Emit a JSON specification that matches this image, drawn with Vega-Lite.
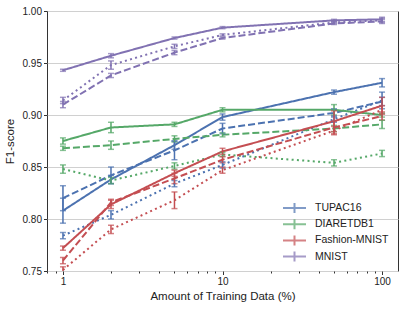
{
  "$schema": "https://vega.github.io/schema/vega-lite/v6.json",
  "width": 351,
  "height": 260,
  "autosize": {"type": "none"},
  "padding": {"left": 47, "top": 11, "right": 11, "bottom": 39},
  "config": {
    "font": "Liberation Sans",
    "view": {"stroke": "#333333", "strokeWidth": 1},
    "axis": {
      "labelFont": "Liberation Sans",
      "titleFont": "Liberation Sans",
      "labelFontSize": 10,
      "titleFontSize": 11.5,
      "titleFontWeight": "normal",
      "labelColor": "#222222",
      "titleColor": "#222222",
      "tickColor": "#333333",
      "domain": false
    }
  },
  "data": {
    "values": [
      {"dataset": "TUPAC16", "variant": "solid", "x": 1, "y": 0.808, "err": 0.012},
      {"dataset": "TUPAC16", "variant": "solid", "x": 2, "y": 0.838, "err": 0.004},
      {"dataset": "TUPAC16", "variant": "solid", "x": 5, "y": 0.871, "err": 0.004},
      {"dataset": "TUPAC16", "variant": "solid", "x": 10, "y": 0.898, "err": 0.003},
      {"dataset": "TUPAC16", "variant": "solid", "x": 50, "y": 0.922, "err": 0.002},
      {"dataset": "TUPAC16", "variant": "solid", "x": 100, "y": 0.931, "err": 0.004},
      {"dataset": "TUPAC16", "variant": "dashed", "x": 1, "y": 0.820, "err": 0.012},
      {"dataset": "TUPAC16", "variant": "dashed", "x": 2, "y": 0.842, "err": 0.008},
      {"dataset": "TUPAC16", "variant": "dashed", "x": 5, "y": 0.866, "err": 0.009},
      {"dataset": "TUPAC16", "variant": "dashed", "x": 10, "y": 0.887, "err": 0.005},
      {"dataset": "TUPAC16", "variant": "dashed", "x": 50, "y": 0.902, "err": 0.004},
      {"dataset": "TUPAC16", "variant": "dashed", "x": 100, "y": 0.913, "err": 0.004},
      {"dataset": "TUPAC16", "variant": "dotted", "x": 1, "y": 0.784, "err": 0.003},
      {"dataset": "TUPAC16", "variant": "dotted", "x": 2, "y": 0.804, "err": 0.004},
      {"dataset": "TUPAC16", "variant": "dotted", "x": 5, "y": 0.834, "err": 0.003},
      {"dataset": "TUPAC16", "variant": "dotted", "x": 10, "y": 0.852, "err": 0.003},
      {"dataset": "TUPAC16", "variant": "dotted", "x": 50, "y": 0.896, "err": 0.003},
      {"dataset": "TUPAC16", "variant": "dotted", "x": 100, "y": 0.914, "err": 0.008},
      {"dataset": "DIARETDB1", "variant": "solid", "x": 1, "y": 0.875, "err": 0.003},
      {"dataset": "DIARETDB1", "variant": "solid", "x": 2, "y": 0.888, "err": 0.005},
      {"dataset": "DIARETDB1", "variant": "solid", "x": 5, "y": 0.891, "err": 0.002},
      {"dataset": "DIARETDB1", "variant": "solid", "x": 10, "y": 0.905, "err": 0.002},
      {"dataset": "DIARETDB1", "variant": "solid", "x": 50, "y": 0.905, "err": 0.005},
      {"dataset": "DIARETDB1", "variant": "solid", "x": 100, "y": 0.900, "err": 0.002},
      {"dataset": "DIARETDB1", "variant": "dashed", "x": 1, "y": 0.868, "err": 0.002},
      {"dataset": "DIARETDB1", "variant": "dashed", "x": 2, "y": 0.871, "err": 0.004},
      {"dataset": "DIARETDB1", "variant": "dashed", "x": 5, "y": 0.877, "err": 0.003},
      {"dataset": "DIARETDB1", "variant": "dashed", "x": 10, "y": 0.881, "err": 0.002},
      {"dataset": "DIARETDB1", "variant": "dashed", "x": 50, "y": 0.887, "err": 0.003},
      {"dataset": "DIARETDB1", "variant": "dashed", "x": 100, "y": 0.891, "err": 0.004},
      {"dataset": "DIARETDB1", "variant": "dotted", "x": 1, "y": 0.848, "err": 0.004},
      {"dataset": "DIARETDB1", "variant": "dotted", "x": 2, "y": 0.837, "err": 0.003},
      {"dataset": "DIARETDB1", "variant": "dotted", "x": 5, "y": 0.851, "err": 0.003},
      {"dataset": "DIARETDB1", "variant": "dotted", "x": 10, "y": 0.862, "err": 0.002},
      {"dataset": "DIARETDB1", "variant": "dotted", "x": 50, "y": 0.854, "err": 0.003},
      {"dataset": "DIARETDB1", "variant": "dotted", "x": 100, "y": 0.863, "err": 0.003},
      {"dataset": "Fashion-MNIST", "variant": "solid", "x": 1, "y": 0.772, "err": 0.002},
      {"dataset": "Fashion-MNIST", "variant": "solid", "x": 2, "y": 0.814, "err": 0.004},
      {"dataset": "Fashion-MNIST", "variant": "solid", "x": 5, "y": 0.844, "err": 0.003},
      {"dataset": "Fashion-MNIST", "variant": "solid", "x": 10, "y": 0.865, "err": 0.003},
      {"dataset": "Fashion-MNIST", "variant": "solid", "x": 50, "y": 0.894, "err": 0.010},
      {"dataset": "Fashion-MNIST", "variant": "solid", "x": 100, "y": 0.909, "err": 0.008},
      {"dataset": "Fashion-MNIST", "variant": "dashed", "x": 1, "y": 0.760, "err": 0.003},
      {"dataset": "Fashion-MNIST", "variant": "dashed", "x": 2, "y": 0.816, "err": 0.003},
      {"dataset": "Fashion-MNIST", "variant": "dashed", "x": 5, "y": 0.839, "err": 0.005},
      {"dataset": "Fashion-MNIST", "variant": "dashed", "x": 10, "y": 0.857, "err": 0.003},
      {"dataset": "Fashion-MNIST", "variant": "dashed", "x": 50, "y": 0.888, "err": 0.006},
      {"dataset": "Fashion-MNIST", "variant": "dashed", "x": 100, "y": 0.899, "err": 0.004},
      {"dataset": "Fashion-MNIST", "variant": "dotted", "x": 1, "y": 0.751, "err": 0.003},
      {"dataset": "Fashion-MNIST", "variant": "dotted", "x": 2, "y": 0.790, "err": 0.004},
      {"dataset": "Fashion-MNIST", "variant": "dotted", "x": 5, "y": 0.818, "err": 0.008},
      {"dataset": "Fashion-MNIST", "variant": "dotted", "x": 10, "y": 0.847, "err": 0.003},
      {"dataset": "Fashion-MNIST", "variant": "dotted", "x": 50, "y": 0.885, "err": 0.004},
      {"dataset": "Fashion-MNIST", "variant": "dotted", "x": 100, "y": 0.905, "err": 0.004},
      {"dataset": "MNIST", "variant": "solid", "x": 1, "y": 0.943, "err": 0.001},
      {"dataset": "MNIST", "variant": "solid", "x": 2, "y": 0.957, "err": 0.002},
      {"dataset": "MNIST", "variant": "solid", "x": 5, "y": 0.974, "err": 0.001},
      {"dataset": "MNIST", "variant": "solid", "x": 10, "y": 0.984, "err": 0.001},
      {"dataset": "MNIST", "variant": "solid", "x": 50, "y": 0.991, "err": 0.001},
      {"dataset": "MNIST", "variant": "solid", "x": 100, "y": 0.992, "err": 0.002},
      {"dataset": "MNIST", "variant": "dashed", "x": 1, "y": 0.910, "err": 0.003},
      {"dataset": "MNIST", "variant": "dashed", "x": 2, "y": 0.938, "err": 0.002},
      {"dataset": "MNIST", "variant": "dashed", "x": 5, "y": 0.960, "err": 0.002},
      {"dataset": "MNIST", "variant": "dashed", "x": 10, "y": 0.974, "err": 0.001},
      {"dataset": "MNIST", "variant": "dashed", "x": 50, "y": 0.988, "err": 0.001},
      {"dataset": "MNIST", "variant": "dashed", "x": 100, "y": 0.990, "err": 0.002},
      {"dataset": "MNIST", "variant": "dotted", "x": 1, "y": 0.914, "err": 0.003},
      {"dataset": "MNIST", "variant": "dotted", "x": 2, "y": 0.948, "err": 0.004},
      {"dataset": "MNIST", "variant": "dotted", "x": 5, "y": 0.966, "err": 0.002},
      {"dataset": "MNIST", "variant": "dotted", "x": 10, "y": 0.977, "err": 0.001},
      {"dataset": "MNIST", "variant": "dotted", "x": 50, "y": 0.989, "err": 0.001},
      {"dataset": "MNIST", "variant": "dotted", "x": 100, "y": 0.991, "err": 0.002}
    ]
  },
  "encoding": {
    "x": {
      "field": "x",
      "type": "quantitative",
      "scale": {"type": "log", "domain": [0.7943, 125.89], "nice": false},
      "axis": {
        "title": "Amount of Training Data (%)",
        "values": [0.8, 0.9, 1, 2, 3, 4, 5, 6, 7, 8, 9, 10, 20, 30, 40, 50, 60, 70, 80, 90, 100],
        "labelExpr": "indexof([1,10,100], datum.value) >= 0 ? datum.value : ''",
        "tickSize": {"condition": {"test": "indexof([1,10,100], datum.value) >= 0", "value": 3.5}, "value": 2},
        "grid": false,
        "labelPadding": 2,
        "titlePadding": 4
      }
    },
    "y": {
      "field": "y",
      "type": "quantitative",
      "scale": {"domain": [0.75, 1.0], "nice": false, "zero": false},
      "axis": {
        "title": "F1-score",
        "values": [0.75, 0.8, 0.85, 0.9, 0.95, 1.0],
        "format": ".2f",
        "tickSize": 3.5,
        "grid": true,
        "gridColor": "#d0d0d0",
        "gridWidth": 1.2,
        "labelPadding": 2,
        "titlePadding": 7
      }
    },
    "color": {
      "field": "dataset",
      "type": "nominal",
      "scale": {
        "domain": ["TUPAC16", "DIARETDB1", "Fashion-MNIST", "MNIST"],
        "range": ["#4C72B0", "#55A868", "#C44E52", "#8172B2"]
      },
      "legend": {
        "title": null,
        "orient": "none",
        "legendX": 241.5,
        "legendY": 191,
        "symbolType": "M-2.3,0L2.3,0M0,-1L0,1",
        "symbolSize": 100,
        "symbolStrokeWidth": 2,
        "symbolFillColor": "transparent",
        "labelFontSize": 10.5,
        "labelFont": "Liberation Sans",
        "labelColor": "#222222",
        "labelOffset": 14.5,
        "rowPadding": -1.8
      }
    }
  },
  "layer": [
    {
      "mark": {"type": "line", "strokeWidth": 2, "clip": true},
      "encoding": {
        "strokeDash": {
          "field": "variant",
          "type": "nominal",
          "scale": {"domain": ["solid", "dashed", "dotted"], "range": [[1, 0], [7, 3], [2, 3.3]]},
          "legend": null
        }
      }
    },
    {
      "mark": {"type": "errorbar", "ticks": true, "size": 6, "thickness": 1.5, "clip": true},
      "encoding": {
        "yError": {"field": "err"}
      }
    }
  ]
}
